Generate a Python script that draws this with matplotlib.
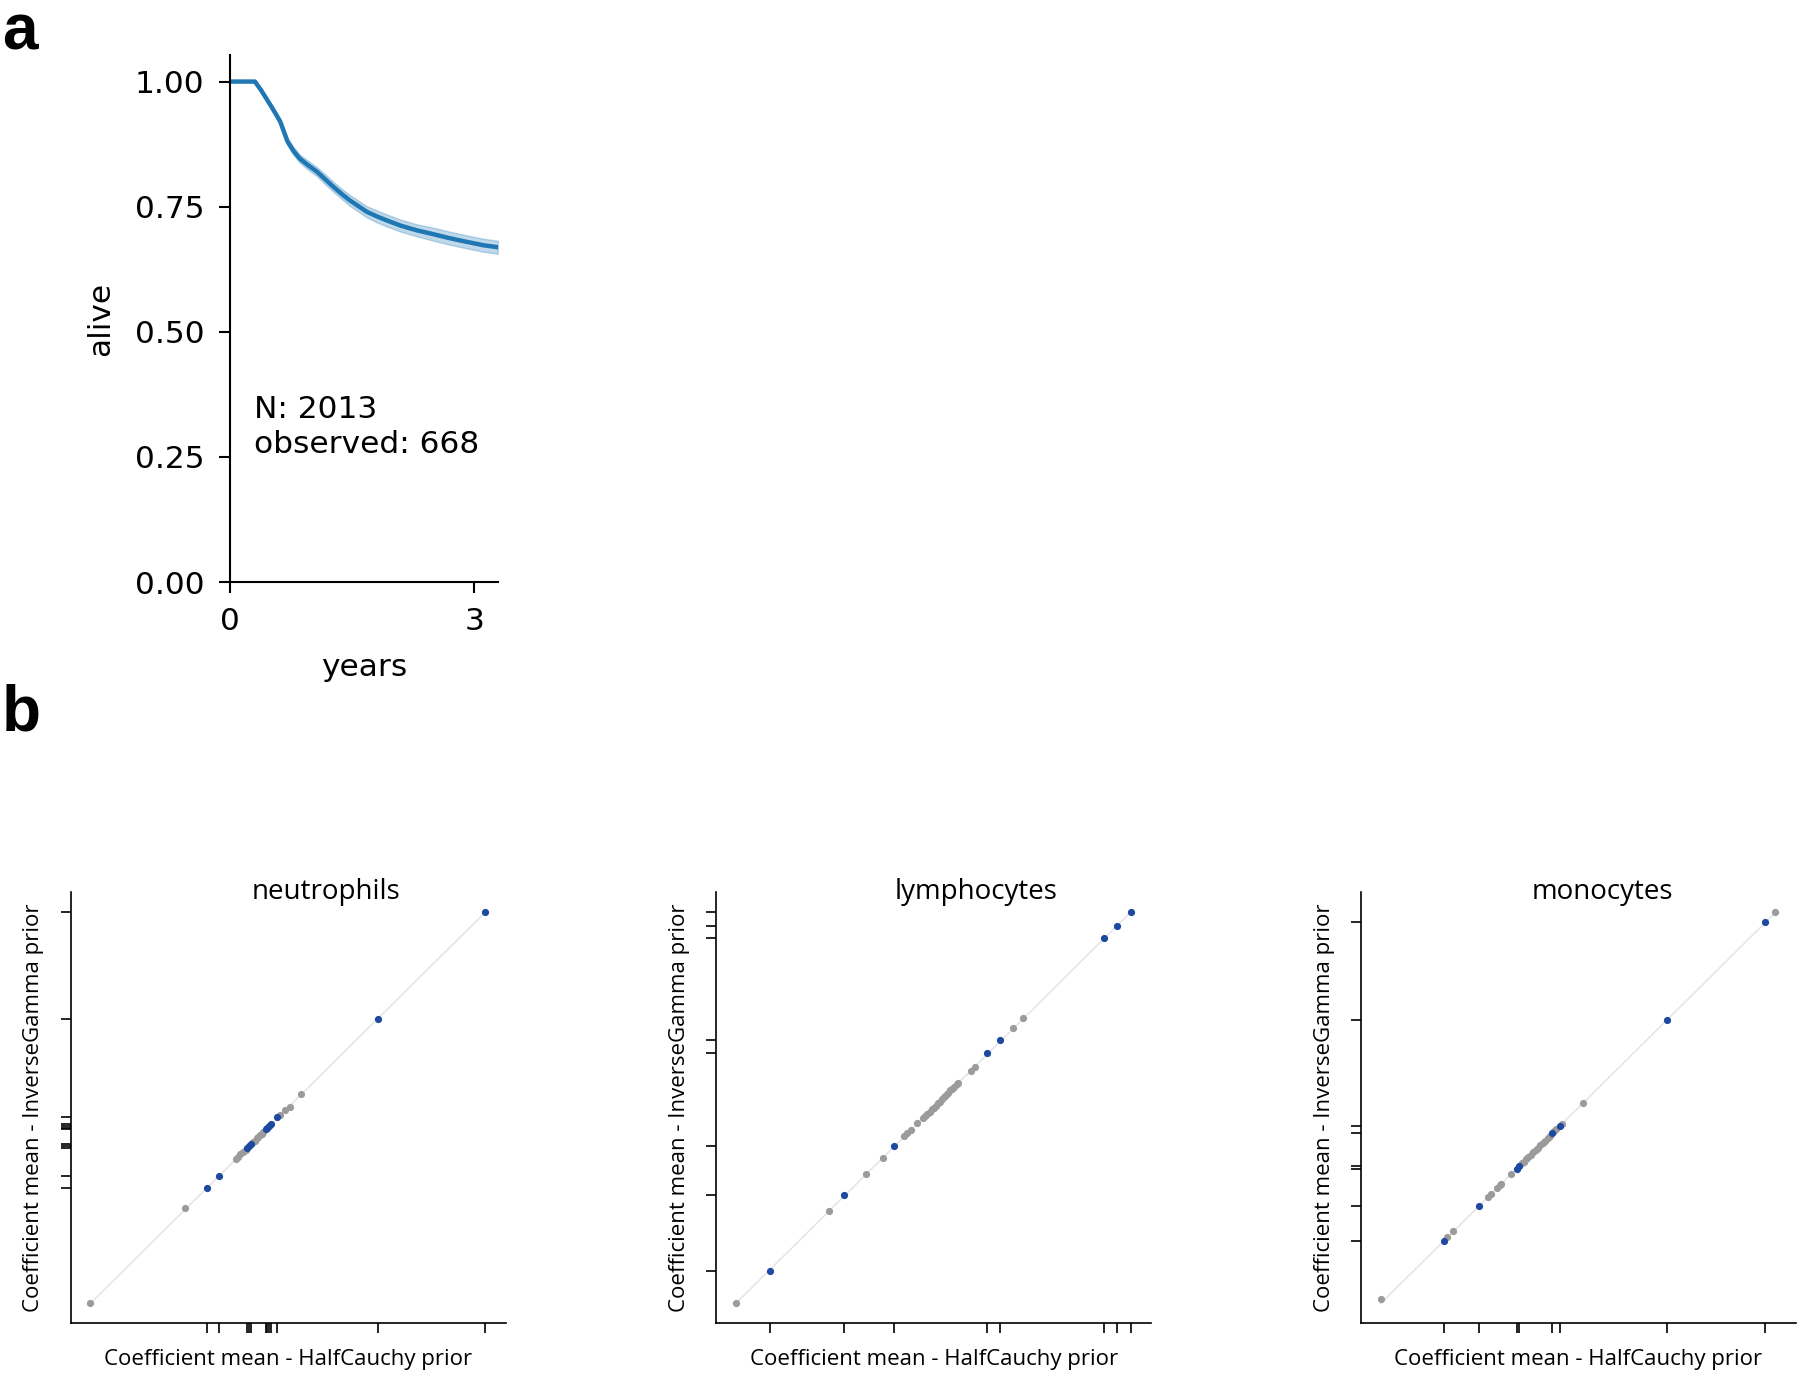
import numpy as np
import matplotlib
matplotlib.use("Agg")
import matplotlib.pyplot as plt

# panel a: survival curve
years = [0, 0.31, 0.38, 0.45, 0.53, 0.62, 0.71, 0.78, 0.86, 0.96, 1.07, 1.17, 1.27, 1.37, 1.47, 1.58,
         1.68, 1.80, 1.92, 2.10, 2.29, 2.50, 2.70, 2.90, 3.11, 3.29]
alive = [1.0, 1.0, 0.984, 0.966, 0.945, 0.920, 0.880, 0.862, 0.846, 0.833, 0.820, 0.805, 0.790, 0.776,
         0.763, 0.751, 0.740, 0.731, 0.723, 0.712, 0.703, 0.695, 0.687, 0.680, 0.673, 0.669]
band = [0, 0, 0.003, 0.004, 0.005, 0.006, 0.007, 0.008, 0.008, 0.009, 0.009, 0.010, 0.010, 0.010,
        0.011, 0.011, 0.011, 0.012, 0.012, 0.012, 0.012, 0.013, 0.013, 0.013, 0.013, 0.013]
n_total = 2013
n_observed = 668

# panel b: coefficient means, HalfCauchy (hc) vs InverseGamma (ig) prior
cells = ["neutrophils", "lymphocytes", "monocytes"]

neut_hc_grey = [-0.398, -0.160, -0.033, -0.027, -0.021, -0.014, -0.008, 0.011, 0.016, 0.020, 0.024,
                0.028, 0.033, 0.037, 0.079, 0.091, 0.103, 0.132]
neut_ig_grey = [-0.397, -0.155, -0.032, -0.026, -0.019, -0.014, -0.008, 0.012, 0.015, 0.021, 0.024,
                0.029, 0.032, 0.038, 0.080, 0.093, 0.101, 0.133]
neut_hc_sig = [-0.105, -0.075, -0.004, 0.001, 0.006, 0.043, 0.047, 0.052, 0.057, 0.072, 0.324, 0.595]
neut_ig_sig = [-0.106, -0.074, -0.003, 0.001, 0.007, 0.044, 0.047, 0.053, 0.058, 0.074, 0.324, 0.596]

lymph_hc_grey = [-0.391, -0.161, -0.069, -0.027, 0.027, 0.035, 0.045, 0.059, 0.074, 0.079, 0.084,
                 0.090, 0.095, 0.100, 0.105, 0.110, 0.116, 0.121, 0.126, 0.131, 0.137, 0.142, 0.147,
                 0.152, 0.158, 0.161, 0.192, 0.202, 0.298, 0.323]
lymph_ig_grey = [-0.392, -0.160, -0.068, -0.026, 0.028, 0.035, 0.044, 0.060, 0.074, 0.078, 0.085,
                 0.089, 0.096, 0.100, 0.104, 0.111, 0.115, 0.122, 0.126, 0.132, 0.136, 0.143, 0.147,
                 0.151, 0.158, 0.162, 0.193, 0.203, 0.299, 0.324]
lymph_hc_sig = [-0.307, -0.122, 0.002, 0.234, 0.266, 0.523, 0.556, 0.591]
lymph_ig_sig = [-0.310, -0.119, 0.004, 0.236, 0.269, 0.526, 0.557, 0.592]

mono_hc_grey = [-0.395, -0.229, -0.214, -0.127, -0.119, -0.103, -0.097, -0.093, -0.068, -0.042,
                -0.036, -0.030, -0.025, -0.019, -0.013, -0.007, -0.001, 0.005, 0.011, 0.017, 0.023,
                0.029, 0.040, 0.045, 0.060, 0.111, 0.594]
mono_ig_grey = [-0.384, -0.226, -0.212, -0.125, -0.118, -0.102, -0.096, -0.092, -0.067, -0.041,
                -0.036, -0.030, -0.024, -0.019, -0.013, -0.007, -0.001, 0.005, 0.011, 0.017, 0.023,
                0.029, 0.040, 0.046, 0.060, 0.112, 0.596]
mono_hc_sig = [-0.236, -0.149, -0.054, -0.048, 0.034, 0.053, 0.322, 0.569]
mono_ig_sig = [-0.236, -0.148, -0.054, -0.048, 0.035, 0.054, 0.322, 0.570]

panel_data = [
    (neut_hc_grey, neut_ig_grey, neut_hc_sig, neut_ig_sig),
    (lymph_hc_grey, lymph_ig_grey, lymph_hc_sig, lymph_ig_sig),
    (mono_hc_grey, mono_ig_grey, mono_hc_sig, mono_ig_sig),
]

fig = plt.figure(figsize=(18, 13.76), dpi=100)

# ---- panel a ----
fs_a = 22.5
alive_lo = [a - d for a, d in zip(alive, band)]
alive_hi = [a + d for a, d in zip(alive, band)]
ax = fig.add_axes([0.1276, 0.577, 0.149, 0.383])
ax.fill_between(years, alive_lo, alive_hi, color="#1f77b4", alpha=0.28, lw=1)
ax.plot(years, alive, color="#1f77b4", lw=3.2)
ax.set_xlim(0, 3.29)
ax.set_ylim(0, 1.053)
ax.set_xticks([0, 3])
ax.set_yticks([0, 0.25, 0.5, 0.75, 1.0])
ax.set_yticklabels(["%.2f" % v for v in [0, 0.25, 0.5, 0.75, 1.0]])
for s in ["top", "right"]:
    ax.spines[s].set_visible(False)
for s in ["left", "bottom"]:
    ax.spines[s].set_linewidth(1.5)
ax.tick_params(labelsize=fs_a, length=8, width=1.5, pad=10)
ax.set_xlabel("years", fontsize=fs_a, labelpad=12)
ax.set_ylabel("alive", fontsize=fs_a, labelpad=14)
ax.text(0.30, 0.31, "N: %d\nobserved: %d" % (n_total, n_observed), fontsize=fs_a,
        va="center", ha="left", linespacing=1.28)

# ---- panel b ----
lefts = [0.0392, 0.3978, 0.7561]
title_x = [0.588, 0.597, 0.556]
for i, name in enumerate(cells):
    hc_g, ig_g, hc_s, ig_s = panel_data[i]
    ax = fig.add_axes([lefts[i], 0.0385, 0.2417, 0.3132])
    allv = hc_g + ig_g + hc_s + ig_s
    lo, hi = min(allv), max(allv)
    ax.plot([lo, hi], [lo, hi], color="#e2e2e2", lw=1, zorder=1)
    ax.scatter(hc_g, ig_g, s=27, color="#9b9b9b", lw=0, zorder=2)
    ax.scatter(hc_s, ig_s, s=27, color="#1c4aa0", lw=0, zorder=3)
    ax.set_xticks(hc_s)
    ax.set_yticks(ig_s)
    ax.tick_params(labelbottom=False, labelleft=False, length=7, width=1.2)
    for s in ["top", "right"]:
        ax.spines[s].set_visible(False)
    for s in ["left", "bottom"]:
        ax.spines[s].set_linewidth(1.2)
    ax.set_xlabel("Coefficient mean - HalfCauchy prior", fontsize=16, family="Open Sans", labelpad=12)
    ax.set_ylabel("Coefficient mean - InverseGamma prior", fontsize=16, family="Open Sans", labelpad=12)
    ax.text(title_x[i], 0.984, name, transform=ax.transAxes, ha="center", va="baseline",
            fontsize=20, family="Open Sans")

fig.text(0.001, 0.964, "a", fontsize=46, fontweight="bold", family="Liberation Sans", va="baseline")
fig.text(0.001, 0.4688, "b", fontsize=46, fontweight="bold", family="Liberation Sans", va="baseline")

fig.savefig("out.png", dpi=100)
